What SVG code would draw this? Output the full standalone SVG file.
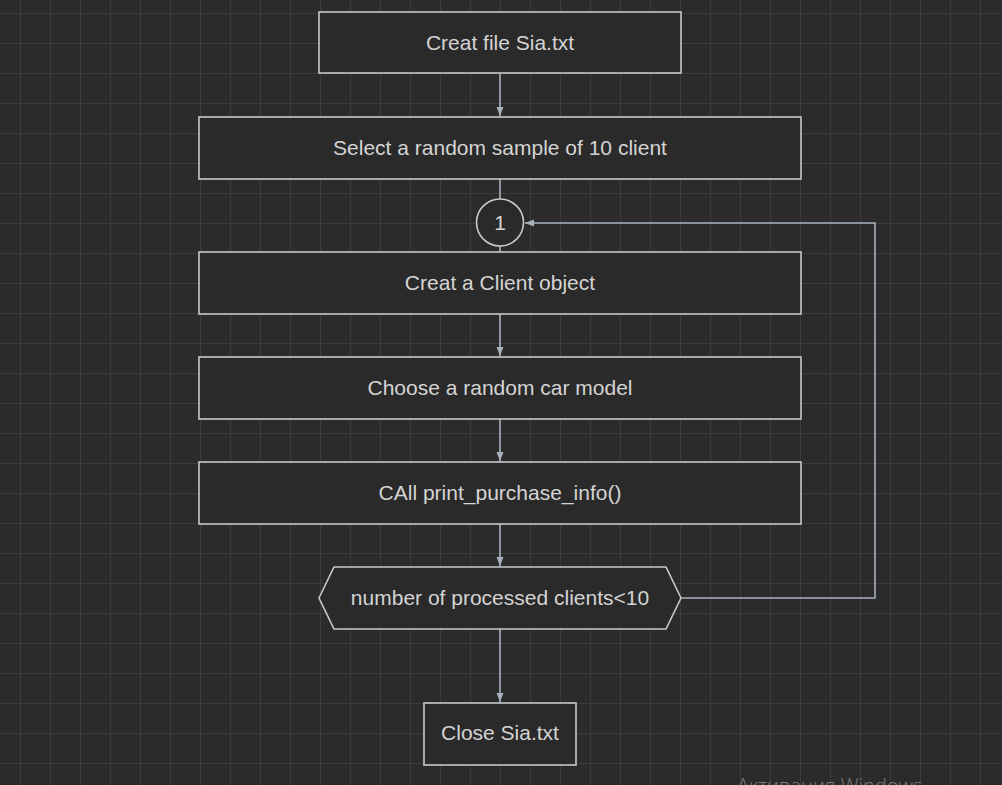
<svg xmlns="http://www.w3.org/2000/svg" width="1002" height="785" viewBox="0 0 1002 785">
<defs>
<pattern id="grid" x="20" y="13" width="30" height="30" patternUnits="userSpaceOnUse">
<path d="M0 0 H30 M0 0 V30" fill="none" stroke="#3c3c3c" stroke-width="2"/>
</pattern>
<marker id="arr" markerWidth="10" markerHeight="10" refX="9" refY="5" orient="auto" markerUnits="userSpaceOnUse">
<path d="M0 1.5 L9 5 L0 8.5 Z" fill="#a7b1bd"/>
</marker>
</defs>
<style>
.node{fill:#2a2a2a;stroke:#c9c9c9;stroke-width:1.6}
.lbl{font-family:"Liberation Sans",Arial,sans-serif;font-size:21px;fill:#d4d4d4;text-anchor:middle}
.edge{fill:none;stroke:#a7b1bd;stroke-width:1.6}
</style>
<rect width="1002" height="785" fill="#2b2b2b"/>
<rect width="1002" height="785" fill="url(#grid)"/>
<g id="connectors">
<path class="edge" d="M500 74 V116" marker-end="url(#arr)"/>
<path class="edge" d="M500 179 V199"/>
<path class="edge" d="M500 246 V252"/>
<path class="edge" d="M500 314 V356" marker-end="url(#arr)"/>
<path class="edge" d="M500 419 V461" marker-end="url(#arr)"/>
<path class="edge" d="M500 524 V566" marker-end="url(#arr)"/>
<path class="edge" d="M500 629 V702" marker-end="url(#arr)"/>
<path class="edge" d="M681 598 H875 V223 H525" marker-end="url(#arr)"/>
</g>
<g id="n1"><rect class="node" x="319" y="12" width="362" height="61"/><text class="lbl" x="500" y="50">Creat file Sia.txt</text></g>
<g id="n2"><rect class="node" x="199" y="117" width="602" height="62"/><text class="lbl" x="500" y="155">Select a random sample of 10 client</text></g>
<g id="n3"><circle class="node" cx="500" cy="222.5" r="23.5"/><text class="lbl" x="500" y="230">1</text></g>
<g id="n4"><rect class="node" x="199" y="252" width="602" height="62"/><text class="lbl" x="500" y="290">Creat a Client object</text></g>
<g id="n5"><rect class="node" x="199" y="357" width="602" height="62"/><text class="lbl" x="500" y="395">Choose a random car model</text></g>
<g id="n6"><rect class="node" x="199" y="462" width="602" height="62"/><text class="lbl" x="500" y="500">CAll print_purchase_info()</text></g>
<g id="n7"><polygon class="node" points="319,598 334,567 666,567 681,598 666,629 334,629"/><text class="lbl" x="500" y="605">number of processed clients&lt;10</text></g>
<g id="n8"><rect class="node" x="424" y="703" width="152" height="62"/><text class="lbl" x="500" y="740">Close Sia.txt</text></g>
<text x="737" y="793" font-family="Open Sans,Noto Sans,sans-serif" font-size="20" fill="#7c7c7c" font-weight="300">Активация Windows</text>
</svg>
